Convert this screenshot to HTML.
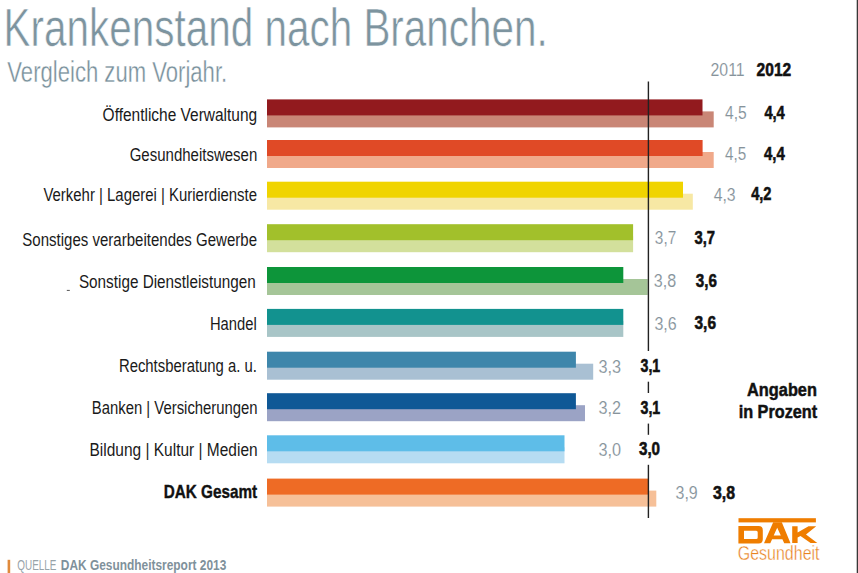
<!DOCTYPE html>
<html><head><meta charset="utf-8"><style>
html,body{margin:0;padding:0;background:#fff;overflow:hidden}
svg{display:block}
text{font-family:"Liberation Sans",sans-serif}
</style></head><body>
<svg width="858" height="573" viewBox="0 0 858 573">
<rect x="0" y="0" width="858" height="573" fill="#fff"/>
<rect x="267" y="111.40" width="446.70" height="16" fill="#c98676"/>
<rect x="267" y="99.40" width="435.50" height="16" fill="#921a1e"/>
<rect x="267" y="152.00" width="446.70" height="16" fill="#f0a98a"/>
<rect x="267" y="140.00" width="435.60" height="16" fill="#e04a26"/>
<rect x="267" y="193.70" width="425.80" height="16" fill="#f7e8a4"/>
<rect x="267" y="181.70" width="416.00" height="16" fill="#f0d400"/>
<rect x="267" y="236.20" width="366.10" height="16" fill="#d3e09c"/>
<rect x="267" y="224.20" width="366.10" height="16" fill="#a2c02b"/>
<rect x="267" y="279.00" width="380.70" height="16" fill="#a5c598"/>
<rect x="267" y="267.00" width="356.30" height="16" fill="#0d953a"/>
<rect x="267" y="320.90" width="356.30" height="16" fill="#a8c5c7"/>
<rect x="267" y="308.90" width="356.30" height="16" fill="#12928f"/>
<rect x="267" y="363.70" width="326.20" height="16" fill="#a9c0d3"/>
<rect x="267" y="351.70" width="308.90" height="16" fill="#3e86ab"/>
<rect x="267" y="405.20" width="318.00" height="16" fill="#9ba3c5"/>
<rect x="267" y="393.20" width="308.90" height="16" fill="#0f5896"/>
<rect x="267" y="447.30" width="297.50" height="16" fill="#b6dcf2"/>
<rect x="267" y="435.30" width="297.50" height="16" fill="#5ebde8"/>
<rect x="267" y="490.60" width="389.30" height="16" fill="#f6c098"/>
<rect x="267" y="478.60" width="381.00" height="16" fill="#ee6b25"/>
<rect x="647.7" y="81.5" width="1.4" height="269.5" fill="#222"/>
<rect x="647.7" y="381.7" width="1.4" height="11.3" fill="#222"/>
<rect x="647.7" y="423.6" width="1.4" height="11.2" fill="#222"/>
<rect x="647.7" y="464.8" width="1.4" height="53.2" fill="#222"/>
<rect x="856.7" y="0" width="1.3" height="573" fill="#383838"/>
<rect x="7.6" y="559.8" width="2.6" height="13.2" fill="#e08a3c"/>
<g fill="#ef7d00"><rect x="738.5" y="518.2" width="77.4" height="4.2"/><path d="M738.4 526.1 H758.6 Q762.8 526.1 762.8 530.3 V539.2 Q762.8 543.4 758.6 543.4 H738.4 Z M744 530.7 V539 H756.2 Q757.7 539 757.7 537.5 V532.2 Q757.7 530.7 756.2 530.7 Z" fill-rule="evenodd"/><path d="M764 543.2 L773.2 522.3 H781.8 L790.5 543.2 H784.2 L782.4 539.3 H772.1 L770.3 543.2 Z M773.7 535.6 H780.8 L777.2 527.8 Z" fill-rule="evenodd"/><path d="M792.2 526.2 H797.6 V532.5 L808.5 526.2 H816.2 L806 534.5 L817.3 542.9 H810.6 L800.5 536 L797.6 537.6 V542.9 H792.2 Z"/></g>
<rect x="66.8" y="289.9" width="3" height="1" fill="#555"/>
<text id="title" x="3.56" y="45.60" font-size="53.05" font-weight="400" fill="#7d949f" stroke="#fff" stroke-width="0.6" textLength="544.26" lengthAdjust="spacingAndGlyphs">Krankenstand nach Branchen.</text>
<text id="sub" x="7.36" y="81.50" font-size="29.07" font-weight="400" fill="#78909b" stroke="#fff" stroke-width="0.35" textLength="219.80" lengthAdjust="spacingAndGlyphs">Vergleich zum Vorjahr.</text>
<text id="l1" x="102.62" y="120.80" font-size="18.90" font-weight="400" fill="#1a1a1a" textLength="154.58" lengthAdjust="spacingAndGlyphs">Öffentliche Verwaltung</text>
<text id="l2" x="129.68" y="161.20" font-size="18.90" font-weight="400" fill="#1a1a1a" textLength="127.64" lengthAdjust="spacingAndGlyphs">Gesundheitswesen</text>
<text id="l3" x="43.44" y="201.40" font-size="18.90" font-weight="400" fill="#1a1a1a" textLength="213.56" lengthAdjust="spacingAndGlyphs">Verkehr | Lagerei | Kurierdienste</text>
<text id="l4" x="22.30" y="245.60" font-size="18.90" font-weight="400" fill="#1a1a1a" textLength="234.70" lengthAdjust="spacingAndGlyphs">Sonstiges verarbeitendes Gewerbe</text>
<text id="l5" x="78.92" y="287.80" font-size="18.90" font-weight="400" fill="#1a1a1a" textLength="176.78" lengthAdjust="spacingAndGlyphs">Sonstige Dienstleistungen</text>
<text id="l6" x="209.92" y="329.60" font-size="18.90" font-weight="400" fill="#1a1a1a" textLength="46.78" lengthAdjust="spacingAndGlyphs">Handel</text>
<text id="l7" x="118.92" y="371.80" font-size="18.90" font-weight="400" fill="#1a1a1a" textLength="138.04" lengthAdjust="spacingAndGlyphs">Rechtsberatung a. u.</text>
<text id="l8" x="91.80" y="413.90" font-size="18.90" font-weight="400" fill="#1a1a1a" textLength="165.84" lengthAdjust="spacingAndGlyphs">Banken | Versicherungen</text>
<text id="l9" x="89.54" y="455.90" font-size="18.90" font-weight="400" fill="#1a1a1a" textLength="168.10" lengthAdjust="spacingAndGlyphs">Bildung | Kultur | Medien</text>
<text id="l10" x="163.68" y="497.80" font-size="18.60" font-weight="700" fill="#111" stroke="#111" stroke-width="0.4" textLength="93.38" lengthAdjust="spacingAndGlyphs">DAK Gesamt</text>
<text id="h11" x="710.54" y="76.30" font-size="18.90" font-weight="400" fill="#86939b" stroke="#fff" stroke-width="0.12" textLength="34.10" lengthAdjust="spacingAndGlyphs">2011</text>
<text id="h12" x="756.62" y="76.00" font-size="18.90" font-weight="700" fill="#111" stroke="#111" stroke-width="0.6" textLength="34.56" lengthAdjust="spacingAndGlyphs">2012</text>
<text id="g1" x="725.00" y="119.40" font-size="19.19" font-weight="400" fill="#86939b" stroke="#fff" stroke-width="0.12" textLength="21.70" lengthAdjust="spacingAndGlyphs">4,5</text>
<text id="b1" x="764.38" y="119.20" font-size="19.19" font-weight="700" fill="#111" stroke="#111" stroke-width="0.6" textLength="20.42" lengthAdjust="spacingAndGlyphs">4,4</text>
<text id="g2" x="725.06" y="160.20" font-size="19.19" font-weight="400" fill="#86939b" stroke="#fff" stroke-width="0.12" textLength="21.20" lengthAdjust="spacingAndGlyphs">4,5</text>
<text id="b2" x="764.00" y="160.00" font-size="19.19" font-weight="700" fill="#111" stroke="#111" stroke-width="0.6" textLength="20.74" lengthAdjust="spacingAndGlyphs">4,4</text>
<text id="g3" x="713.68" y="200.50" font-size="19.19" font-weight="400" fill="#86939b" stroke="#fff" stroke-width="0.12" textLength="21.96" lengthAdjust="spacingAndGlyphs">4,3</text>
<text id="b3" x="751.20" y="200.30" font-size="19.19" font-weight="700" fill="#111" stroke="#111" stroke-width="0.6" textLength="20.30" lengthAdjust="spacingAndGlyphs">4,2</text>
<text id="g4" x="654.86" y="244.10" font-size="19.19" font-weight="400" fill="#86939b" stroke="#fff" stroke-width="0.12" textLength="21.40" lengthAdjust="spacingAndGlyphs">3,7</text>
<text id="b4" x="694.50" y="244.00" font-size="19.19" font-weight="700" fill="#111" stroke="#111" stroke-width="0.6" textLength="20.56" lengthAdjust="spacingAndGlyphs">3,7</text>
<text id="g5" x="653.86" y="287.30" font-size="19.19" font-weight="400" fill="#86939b" stroke="#fff" stroke-width="0.12" textLength="22.40" lengthAdjust="spacingAndGlyphs">3,8</text>
<text id="b5" x="695.76" y="287.20" font-size="19.19" font-weight="700" fill="#111" stroke="#111" stroke-width="0.6" textLength="21.12" lengthAdjust="spacingAndGlyphs">3,6</text>
<text id="g6" x="654.42" y="329.50" font-size="19.19" font-weight="400" fill="#86939b" stroke="#fff" stroke-width="0.12" textLength="22.28" lengthAdjust="spacingAndGlyphs">3,6</text>
<text id="b6" x="694.50" y="329.40" font-size="19.19" font-weight="700" fill="#111" stroke="#111" stroke-width="0.6" textLength="21.56" lengthAdjust="spacingAndGlyphs">3,6</text>
<text id="g7" x="598.54" y="372.60" font-size="19.19" font-weight="400" fill="#86939b" stroke="#fff" stroke-width="0.12" textLength="22.60" lengthAdjust="spacingAndGlyphs">3,3</text>
<text id="b7" x="640.56" y="372.20" font-size="19.19" font-weight="700" fill="#111" stroke="#111" stroke-width="0.6" textLength="19.68" lengthAdjust="spacingAndGlyphs">3,1</text>
<text id="g8" x="598.54" y="413.50" font-size="19.19" font-weight="400" fill="#86939b" stroke="#fff" stroke-width="0.12" textLength="22.60" lengthAdjust="spacingAndGlyphs">3,2</text>
<text id="b8" x="640.56" y="413.50" font-size="19.19" font-weight="700" fill="#111" stroke="#111" stroke-width="0.6" textLength="19.68" lengthAdjust="spacingAndGlyphs">3,1</text>
<text id="g9" x="598.54" y="455.70" font-size="19.19" font-weight="400" fill="#86939b" stroke="#fff" stroke-width="0.12" textLength="22.60" lengthAdjust="spacingAndGlyphs">3,0</text>
<text id="b9" x="638.94" y="455.30" font-size="19.19" font-weight="700" fill="#111" stroke="#111" stroke-width="0.6" textLength="21.12" lengthAdjust="spacingAndGlyphs">3,0</text>
<text id="g10" x="675.54" y="498.50" font-size="19.19" font-weight="400" fill="#86939b" stroke="#fff" stroke-width="0.12" textLength="22.22" lengthAdjust="spacingAndGlyphs">3,9</text>
<text id="b10" x="713.00" y="498.50" font-size="19.19" font-weight="700" fill="#111" stroke="#111" stroke-width="0.6" textLength="22.00" lengthAdjust="spacingAndGlyphs">3,8</text>
<text id="ang" x="747.06" y="395.60" font-size="18.90" font-weight="700" fill="#111" stroke="#111" stroke-width="0.5" textLength="69.88" lengthAdjust="spacingAndGlyphs">Angaben</text>
<text id="inp" x="738.68" y="418.40" font-size="18.90" font-weight="700" fill="#111" stroke="#111" stroke-width="0.5" textLength="78.50" lengthAdjust="spacingAndGlyphs">in Prozent</text>
<text id="ges" x="737.80" y="559.70" font-size="19.62" font-weight="400" fill="#e8821e" stroke="#fff" stroke-width="0.35" textLength="81.72" lengthAdjust="spacingAndGlyphs">Gesundheit</text>
<text id="q1" x="17.36" y="569.60" font-size="13.95" font-weight="400" fill="#98a3a9" textLength="39.12" lengthAdjust="spacingAndGlyphs">QUELLE</text>
<text id="q2" x="60.80" y="569.50" font-size="13.95" font-weight="700" fill="#7f919b" textLength="165.52" lengthAdjust="spacingAndGlyphs">DAK Gesundheitsreport 2013</text>
</svg>
</body></html>
